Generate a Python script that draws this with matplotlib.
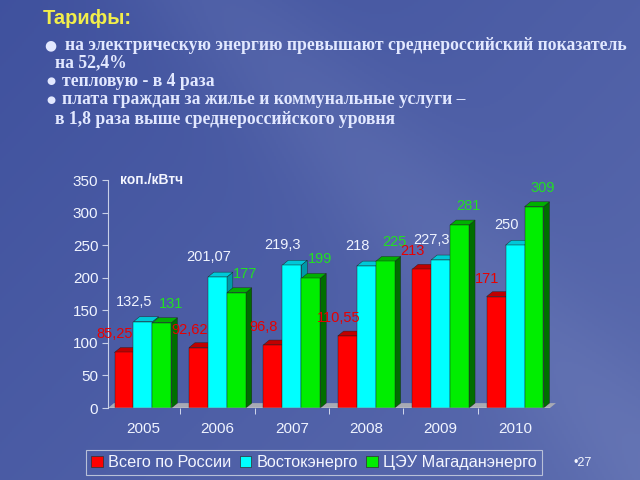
import matplotlib.pyplot as plt
import numpy as np
from matplotlib.patches import Polygon, Patch

# data
years = ["2005", "2006", "2007", "2008", "2009", "2010"]
russia = [85.25, 92.62, 96.8, 110.55, 213, 171]
vostok = [132.5, 201.07, 219.3, 218, 227.3, 250]
magadan = [131, 177, 199, 225, 281, 309]
russia_lbl = ["85,25", "92,62", "96,8", "110,55", "213", "171"]
vostok_lbl = ["132,5", "201,07", "219,3", "218", "227,3", "250"]
magadan_lbl = ["131", "177", "199", "225", "281", "309"]
series_names = ["Всего по России", "Востокэнерго", "ЦЭУ Магаданэнерго"]

W, H = 640, 480
fig = plt.figure(figsize=(6.4, 4.8), dpi=100)

# background
bg = fig.add_axes([0, 0, 1, 1], zorder=-10)
yy, xx = np.mgrid[0:1:240j, 0:1:320j]
dark = np.array([0.25, 0.32, 0.62])
light = np.array([0.42, 0.48, 0.72])
f = 0.35 * xx + 0.25 * yy + 0.25 * np.exp(-((xx - 0.62) - 0.7 * (yy - 0.4)) ** 2 / 0.02)
f = np.clip(f, 0, 1)[..., None]
bg.imshow(dark * (1 - f) + light * f, aspect="auto", extent=[0, 1, 0, 1], origin="upper")
bg.axis("off")


def px(x, y):
    return x / W, 1 - y / H


# header text
fig.text(*px(43, 18), "Тарифы:", color="#f2ee4a", fontsize=14.5, fontweight="bold",
         family="Liberation Sans", va="center")
serif = dict(color="#e2e8ff", fontsize=12.7, fontweight="bold", family="Liberation Serif", va="center")
fig.text(*px(44, 45), "●", color="#e2e8ff", fontsize=10, va="center")
fig.text(*px(65, 45), "на электрическую энергию превышают среднероссийский показатель", **serif)
fig.text(*px(55, 63), "на 52,4%", **serif)
fig.text(*px(46, 81), "●", color="#e2e8ff", fontsize=7.5, va="center")
fig.text(*px(62, 81), "тепловую - в 4 раза", **serif)
fig.text(*px(46, 100), "●", color="#e2e8ff", fontsize=7.5, va="center")
fig.text(*px(62, 100), "плата граждан за жилье и коммунальные услуги –", **serif)
fig.text(*px(55, 119), "в 1,8 раза выше среднероссийского уровня", **serif)

# chart
ax = fig.add_axes([108 / W, 72 / H, 442 / W, 228 / H])
ax.set_facecolor("none")
ax.set_xlim(-0.47, 5.47)
ax.set_ylim(0, 350)

w = 0.255
dx, dy = 0.08, 7.5
x = np.arange(len(years))

# floor
ax.add_patch(Polygon([(-0.47, 0), (5.47, 0), (5.47 + dx, dy), (-0.47 + dx, dy)],
                     closed=True, facecolor="#a8aab4", edgecolor="none", zorder=1, clip_on=False))

styles = [
    (russia, russia_lbl, -w, "#ff0000", "#c00000", "#900000", "#e80000", (-9, 18)),
    (vostok, vostok_lbl, 0, "#00ffff", "#00c8d8", "#009aa8", "#f0f4ff", (-9, 20)),
    (magadan, magadan_lbl, w, "#00ee00", "#00b000", "#006e00", "#22e022", (9, 19)),
]

z = 2
for i in range(len(years)):
    for vals, lbls, off, front, top, side, tc, (ox, oy) in styles:
        v = vals[i]
        x0 = x[i] + off - w / 2
        x1 = x0 + w
        ax.add_patch(Polygon([(x1, 0), (x1 + dx, dy), (x1 + dx, v + dy), (x1, v)], closed=True,
                             facecolor=side, edgecolor="#202020", linewidth=0.3, zorder=z))
        ax.add_patch(Polygon([(x0, v), (x1, v), (x1 + dx, v + dy), (x0 + dx, v + dy)], closed=True,
                             facecolor=top, edgecolor="#202020", linewidth=0.3, zorder=z))
        ax.bar(x[i] + off, v, width=w, color=front, edgecolor="#202020", linewidth=0.3, zorder=z)
        z += 1
        ax.annotate(lbls[i], xy=(x[i] + off, v), xytext=(ox, oy), textcoords="offset pixels",
                    ha="center", va="center", color=tc, fontsize=10.5, family="Liberation Sans",
                    zorder=50)

for s in ["top", "right", "bottom"]:
    ax.spines[s].set_visible(False)
ax.spines["left"].set_color("#c8d0e8")
ax.axhline(0, color="#e8ecf8", linewidth=1, zorder=40, xmax=1.0)
ax.set_xticks(x)
ax.set_xticklabels(years)
ax.set_xticks(np.arange(0.5, 5.0, 1), minor=True)
ax.tick_params(axis="x", which="major", length=0, pad=10, labelsize=11, labelcolor="#f0f4ff")
ax.tick_params(axis="x", which="minor", length=4, color="#e8ecf8", direction="out")
ax.set_yticks(np.arange(0, 351, 50))
ax.tick_params(axis="y", length=4, color="#c8d0e8", labelsize=11, labelcolor="#f0f4ff", pad=3)
for t in ax.get_xticklabels() + ax.get_yticklabels():
    t.set_family("Liberation Sans")

fig.text(*px(120, 180), "коп./кВтч", color="#f4f6ff", fontsize=10, fontweight="bold",
         family="Liberation Sans", va="center")

# legend
handles = [Patch(facecolor=c, edgecolor="#303030", linewidth=0.5) for c in ["#ff0000", "#00ffff", "#00ee00"]]
leg = fig.legend(handles, series_names, loc="center", bbox_to_anchor=(314 / W, 1 - 462.5 / H),
                 ncol=3, handlelength=0.7, handleheight=0.7, handletextpad=0.35, columnspacing=0.5,
                 fancybox=False, facecolor="none", edgecolor="#b8c0d8", borderpad=0.3,
                 prop={"family": "Liberation Sans", "size": 11.7})
for t in leg.get_texts():
    t.set_color("#f4f6ff")
leg.get_frame().set_linewidth(0.8)
leg.get_frame().set_alpha(None)

fig.text(*px(573, 463), "•27", color="#f4f6ff", fontsize=9, family="Liberation Sans", va="center")

plt.savefig("out.png", dpi=100)
